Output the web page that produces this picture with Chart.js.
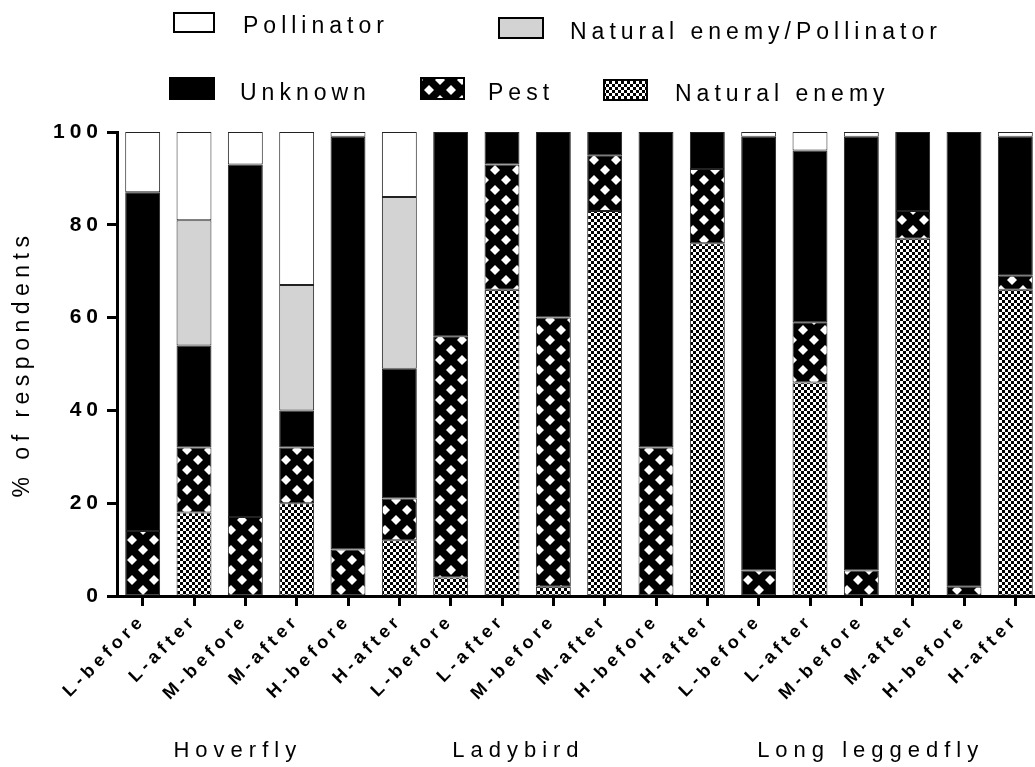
<!DOCTYPE html>
<html><head><meta charset="utf-8">
<script src="https://cdn.jsdelivr.net/npm/chart.js@4.4.1/dist/chart.umd.min.js"></script>
<style>
html,body{margin:0;padding:0;overflow:hidden;background:#fff;width:1035px;height:767px}
#wrap{width:1035px;height:767px;overflow:hidden;position:relative}
canvas{display:block}
</style></head><body>
<div id="wrap"><canvas id="c" width="1041" height="767" style="width:1041px;height:767px"></canvas></div>
<script>
const categories = ['L-before','L-after','M-before','M-after','H-before','H-after',
                    'L-before','L-after','M-before','M-after','H-before','H-after',
                    'L-before','L-after','M-before','M-after','H-before','H-after'];
const groups = ['Hoverfly','Ladybird','Long leggedfly'];
const naturalEnemy          = [0,18,0,20,0,12,   4,66,2,83,0,76,   0,46,0,77,0,66];
const pest                  = [14,14,17,12,10,9, 52,27,58,12,32,16, 5.5,13,5.5,6,2,3];
const unknown               = [73,22,76,8,89,28, 44,7,40,5,68,8,   93.5,37,93.5,17,98,30];
const naturalEnemyPollinator= [0,27,0,27,0,37,   0,0,0,0,0,0,      0,0,0,0,0,0];
const pollinator            = [13,19,7,33,1,14,  0,0,0,0,0,0,      1,4,1,0,0,1];
const yTicks = [0,20,40,60,80,100];

const FONT = "'Liberation Sans', Arial, Helvetica, sans-serif";
const canvas = document.getElementById('c');
const mainCtx = canvas.getContext('2d');

function makeChecker(){
  const t=document.createElement('canvas'); t.width=6; t.height=6;
  const g=t.getContext('2d');
  g.fillStyle='#fff'; g.fillRect(0,0,6,6);
  g.fillStyle='#000'; g.fillRect(0,0,3,3); g.fillRect(3,3,3,3);
  return mainCtx.createPattern(t,'repeat');
}
function makeCross(){
  const w=22,h=20,r=5;
  const t=document.createElement('canvas'); t.width=w; t.height=h;
  const g=t.getContext('2d');
  g.fillStyle='#000'; g.fillRect(0,0,w,h);
  g.fillStyle='#fff';
  const dia=(cx,cy)=>{g.beginPath();g.moveTo(cx,cy-r);g.lineTo(cx+r,cy);g.lineTo(cx,cy+r);g.lineTo(cx-r,cy);g.closePath();g.fill();};
  dia(w/2,h/2); dia(0,0); dia(w,0); dia(0,h); dia(w,h);
  return mainCtx.createPattern(t,'repeat');
}
const checker = makeChecker();
const cross = makeCross();

const series = [
  {label:'Natural enemy', data:naturalEnemy, bg:checker},
  {label:'Pest', data:pest, bg:cross},
  {label:'Unknown', data:unknown, bg:'#000'},
  {label:'Natural enemy/Pollinator', data:naturalEnemyPollinator, bg:'#d3d3d3'},
  {label:'Pollinator', data:pollinator, bg:'#fff'}
];

const spacingPlugin = {
  id:'spacing',
  beforeDraw(chart){
    for (const s of Object.values(chart.scales)) {
      if (s._lsWrapped) continue;
      const ls = s.axis==='x' ? '4.5px' : '5px';
      const oL = s.drawLabels;
      s.drawLabels = function(a){ const c=this.ctx; c.save(); c.letterSpacing=ls; oL.call(this,a); c.restore(); };
      const oT = s.drawTitle;
      s.drawTitle = function(a){ const c=this.ctx; c.save(); c.letterSpacing='5.5px'; oT.call(this,a); c.restore(); };
      s._lsWrapped = true;
    }
  }
};

const legendItems = [
  {i:4, box:[173,12,42,21], tx:243, ty:33},
  {i:3, box:[498,17,46,22], tx:570, ty:39},
  {i:2, box:[169,77,46,23], tx:240, ty:100},
  {i:1, box:[420,77,45,23], tx:488, ty:100},
  {i:0, box:[603,79,45,22], tx:675, ty:101}
];
const groupPos = [0.6, 6.03, 11.97];

const decorPlugin = {
  id:'decor',
  afterDraw(chart){
    const c = chart.ctx;
    c.save();
    c.font = `23px ${FONT}`;
    c.fillStyle = '#000';
    c.textBaseline = 'alphabetic';
    c.textAlign = 'left';
    c.letterSpacing = '5px';
    legendItems.forEach(it=>{
      const [x,y,w,h] = it.box;
      c.fillStyle = series[it.i].bg;
      c.fillRect(x,y,w,h);
      c.strokeStyle = '#000'; c.lineWidth = 2;
      c.strokeRect(x+1,y+1,w-2,h-2);
      c.fillStyle = '#000';
      c.fillText(series[it.i].label, it.tx, it.ty);
    });
    const xs = chart.scales.x;
    c.font = `22px ${FONT}`;
    c.letterSpacing = '6px';
    groups.forEach((g,k)=>{
      c.fillText(g, xs.getPixelForValue(groupPos[k]), 757);
    });
    c.restore();
  }
};

new Chart(canvas, {
  type:'bar',
  data:{
    labels: categories,
    datasets: series.map(s=>({
      label:s.label, data:s.data, backgroundColor:s.bg,
      borderColor:'#222', borderWidth:1, borderSkipped:false,
      categoryPercentage:1, barPercentage:0.68, stack:'s'
    }))
  },
  options:{
    responsive:false, animation:false, devicePixelRatio:1,
    layout:{padding:{top:132,left:0,right:0,bottom:0}},
    plugins:{legend:{display:false}, tooltip:{enabled:false}},
    scales:{
      x:{
        stacked:true, offset:true,
        grid:{offset:false, drawOnChartArea:false, drawTicks:true, tickLength:10, tickWidth:3, tickColor:'#000'},
        border:{display:true, color:'#000', width:3},
        ticks:{autoSkip:false, maxRotation:45, minRotation:45, color:'#000', padding:4,
               font:{family:FONT, size:18, weight:'bold'}},
        afterFit(s){ s.height = 171; }
      },
      y:{
        stacked:true, min:0, max:100,
        afterBuildTicks(s){ s.ticks = yTicks.map(v=>({value:v})); },
        grid:{drawOnChartArea:false, drawTicks:true, tickLength:10, tickWidth:3, tickColor:'#000'},
        border:{display:true, color:'#000', width:3},
        ticks:{color:'#000', padding:4, font:{family:FONT, size:21, weight:'bold'}},
        title:{display:true, text:'% of respondents', color:'#000', padding:{top:9,bottom:0},
               font:{family:FONT, size:23, weight:'normal'}},
        afterFit(s){ s.width = 117; }
      }
    }
  },
  plugins:[spacingPlugin, decorPlugin]
});
</script>
</body></html>
